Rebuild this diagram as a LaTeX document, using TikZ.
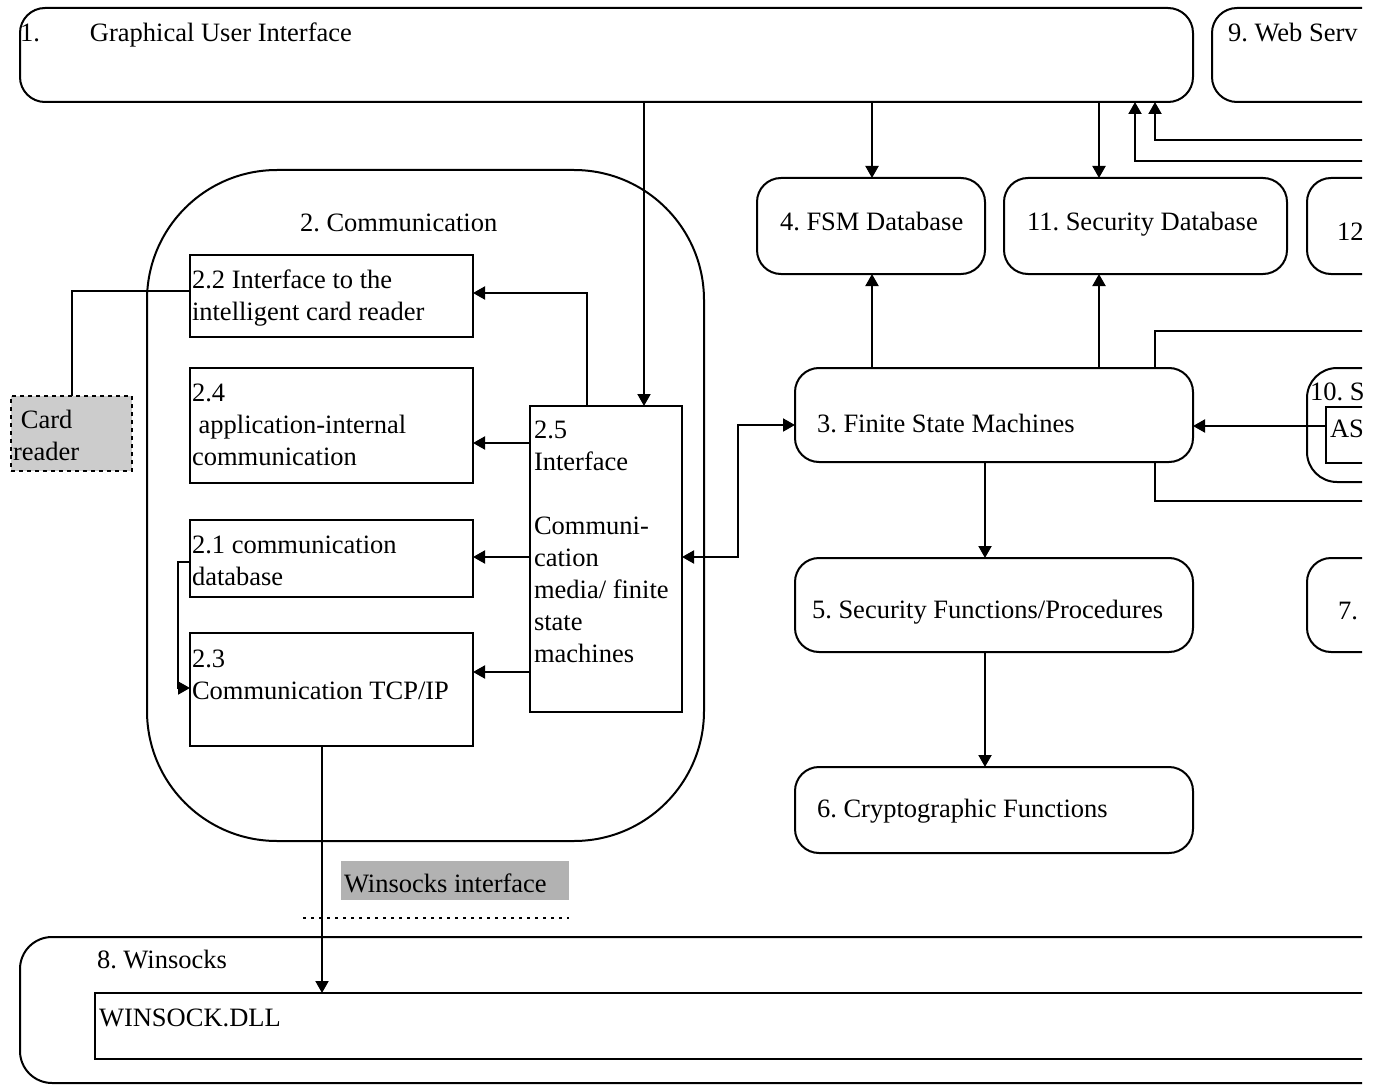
\documentclass[tikz,border=0pt]{standalone}
\usepackage{fontspec}
\setmainfont{Liberation Serif}
\usetikzlibrary{arrows.meta,calc}
\frenchspacing

% box from corner (x1,y1) to (x2,y2), in pixel-like units
\newcommand{\mkbox}[6]{%
  \pgfmathsetmacro\bxw{(#4-#2)*0.5}%
  \pgfmathsetmacro\bxh{(#5-#3)*0.5}%
  \node[#6, minimum width=\bxw pt, minimum height=\bxh pt] (#1) at ({(#2+#4)/2},{(#3+#5)/2}) {};}
% stacked lines, baseline at the first line
\newcommand{\txtlines}[1]{\begin{tabular}[t]{@{}l@{}}#1\end{tabular}}

\begin{document}
\begin{tikzpicture}[x=0.5pt,y=-0.5pt,
  every node/.style={font=\fontsize{13.25pt}{16pt}\selectfont},
  ln/.style={line width=1pt},
  arr/.style={ln,-{Triangle[length=6pt,width=6.5pt]}},
  darr/.style={ln,{Triangle[length=6pt,width=6.5pt]}-{Triangle[length=6pt,width=6.5pt]}},
  rbox/.style={draw, line width=1pt, rounded corners=12pt, inner sep=0pt, outer sep=0pt},
  sbox/.style={draw, line width=1pt, inner sep=0pt, outer sep=0pt},
  tx/.style={anchor=base west, inner sep=0pt, outer sep=0pt}]

\useasboundingbox (0,0) rectangle (1377,1086);
\fill[white] (0,0) rectangle (1377,1086);

\begin{scope}
\clip (0,0) rectangle (1362,1086);

% top row
\mkbox{gui}{20}{8}{1193}{102}{rbox, rounded corners=12.5pt}
\mkbox{web}{1212}{8}{1500}{102}{rbox, rounded corners=12.5pt}
\mkbox{fsmdb}{757}{178}{985}{274}{rbox}
\mkbox{secdb}{1004}{178}{1287}{274}{rbox}
\mkbox{b12}{1307}{178}{1500}{274}{rbox}

% right column
\mkbox{fsm}{795}{368}{1193}{462}{rbox}
\mkbox{b10}{1307}{368}{1500}{482}{rbox, rounded corners=15pt}
\mkbox{as}{1326}{407}{1500}{463}{sbox}
\mkbox{b5}{795}{558}{1193}{652}{rbox}
\mkbox{b6}{795}{767}{1193}{853}{rbox}
\mkbox{b7}{1307}{558}{1500}{652}{rbox}

% communication block
\mkbox{comm}{147}{170}{704}{841}{rbox, rounded corners=65pt}
\mkbox{b22}{190}{255}{473}{337}{sbox}
\mkbox{b24}{190}{368}{473}{483}{sbox}
\mkbox{b21}{190}{520}{473}{597}{sbox}
\mkbox{b23}{190}{633}{473}{746}{sbox}
\mkbox{b25}{530}{406}{682}{712}{sbox}
\mkbox{card}{11}{396}{132}{471}{draw, line width=1pt, dash pattern=on 2pt off 2pt, fill=gray!40, inner sep=0pt, outer sep=0pt}

% winsocks
\mkbox{wsif}{341}{861}{569}{900}{fill=gray!60, inner sep=0pt, outer sep=0pt}
\mkbox{winsock}{20}{937}{1500}{1083}{rbox, rounded corners=16pt}
\mkbox{dll}{95}{993}{1500}{1059}{sbox}

% labels
\node[tx] (t1a) at (20,42) {1.};
\node[tx] (t1b) at (90,42) {Graphical User Interface};
\node[tx] (t9) at (1228,42) {9. Web Serv};
\node[tx] (t4) at (780,230) {4. FSM Database};
\node[tx] (t11) at (1027,230) {11. Security Database};
\node[tx] (t12) at (1337,241) {12};
\node[tx] (t3) at (817,432) {3. Finite State Machines};
\node[tx] (t10) at (1310,400) {10. S};
\node[tx] (tas) at (1330,437) {AS};
\node[tx] (t5) at (812,618) {5. Security Functions/Procedures};
\node[tx] (t6) at (817,817) {6. Cryptographic Functions};
\node[tx] (t7) at (1338,619) {7.};
\node[tx] (t2) at (300,232) {2. Communication};
\node[tx] (t22) at (192,288) {\txtlines{2.2 Interface to the\\intelligent card reader}};
\node[tx] (t24) at (192,401) {\txtlines{2.4\\\hspace{0.25em}application-internal\\communication}};
\node[tx] (t21) at (192,553) {\txtlines{2.1 communication\\database}};
\node[tx] (t23) at (192,667) {\txtlines{2.3\\Communication TCP/IP}};
\node[tx] (t25) at (534,438) {\txtlines{2.5\\Interface\\ \\Communi-\\cation\\media/ finite\\state\\machines}};
\node[tx] (tcard) at (13,428) {\txtlines{\hspace{0.3em}Card\\reader}};
\node[tx] (twsif) at (344,892) {Winsocks interface};
\node[tx] (t8) at (97,968) {8. Winsocks};
\node[tx] (tdll) at (99,1026) {WINSOCK.DLL};

% free ends leaving to the right
\coordinate (inA) at (1400,140);
\coordinate (inB) at (1400,161);
\coordinate (outA) at (1400,331);
\coordinate (outB) at (1400,501);

% connectors
\draw[arr] ($(gui.south west)+(624,0)$) -- ($(b25.north west)+(114,0)$);
\draw[arr] ($(gui.south west)+(852,0)$) -- ($(fsmdb.north west)+(115,0)$);
\draw[arr] ($(gui.south west)+(1079,0)$) -- ($(secdb.north west)+(95,0)$);
\draw[arr] (inA) -| ($(gui.south west)+(1135,0)$);
\draw[arr] (inB) -| ($(gui.south west)+(1115,0)$);
\draw[arr] ($(fsm.north west)+(77,0)$) -- ($(fsmdb.south west)+(115,0)$);
\draw[arr] ($(fsm.north west)+(304,0)$) -- ($(secdb.south west)+(95,0)$);
\draw[ln] ($(fsm.north west)+(360,0)$) |- (outA);
\draw[ln] ($(fsm.south west)+(360,0)$) |- (outB);
\draw[arr] ($(as.north west)+(0,19)$) -- ($(fsm.north east)+(0,58)$);
\draw[arr] ($(fsm.south west)+(190,0)$) -- ($(b5.north west)+(190,0)$);
\draw[arr] ($(b5.south west)+(190,0)$) -- ($(b6.north west)+(190,0)$);
\draw[darr] ($(fsm.north west)+(0,57)$) -- ++(-57,0) |- ($(b25.north east)+(0,151)$);
\draw[arr] ($(b25.north west)+(57,0)$) |- ($(b22.north east)+(0,38)$);
\draw[arr] ($(b25.north west)+(0,37)$) -- ($(b24.north east)+(0,75)$);
\draw[arr] ($(b25.north west)+(0,151)$) -- ($(b21.north east)+(0,37)$);
\draw[arr] ($(b25.north west)+(0,266)$) -- ($(b23.north east)+(0,39)$);
\draw[arr] ($(b21.north west)+(0,42)$) -- ++(-12,0) |- ($(b23.north west)+(0,55)$);
\draw[ln] ($(b22.north west)+(0,36)$) -| ($(card.north west)+(61,0)$);
\draw[arr] ($(b23.south west)+(132,0)$) -- ($(dll.north west)+(227,0)$);

% interface boundary
\draw[ln, dash pattern=on 1.5pt off 2.5pt] (303,918) -- (569,918);
\end{scope}
\end{tikzpicture}
\end{document}
